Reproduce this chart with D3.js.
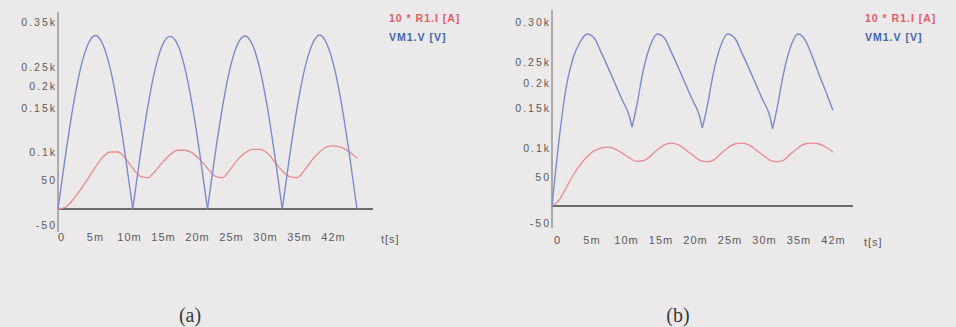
<!DOCTYPE html>
<html>
<head>
<meta charset="utf-8">
<script src="https://cdn.jsdelivr.net/npm/d3@7"></script>
<style>
  html, body { margin: 0; padding: 0; background: #ece9ea; }
  svg { display: block; }
  .tick text { fill: #5a5a5a; font-family: "Liberation Sans", Arial, sans-serif; }
</style>
</head>
<body>
<svg width="956" height="327"></svg>
<script>
// time in ms, 1 ms steps
const timeMs = d3.range(0, 41);

// panel (a): full-wave rectified, no filter
const vmA = [0, 94, 152, 245, 300, 320, 300, 245, 152, 94,
             0, 94, 152, 245, 300, 318, 300, 245, 152, 94,
             0, 94, 152, 245, 300, 319, 300, 245, 152, 94,
             0, 94, 152, 245, 300, 321, 300, 245, 152, 94,
             0];
const curA = [0, 3, 16, 33, 52, 73, 91, 100, 100, 89,
              71, 57, 54, 66, 82, 95, 102, 102, 98, 86,
              71, 57, 54, 68, 86, 98, 103, 103, 98, 82,
              66, 56, 54, 68, 86, 100, 106, 107, 105, 100,
              89];

// panel (b): with filter capacitor
const vmBTime = [0, 1, 2, 3, 4, 5, 6, 7, 8, 9, 10, 11, 11.4, 12, 13, 14,
                 15, 16, 17, 18, 19, 20, 21, 21.4, 22, 23, 24,
                 25, 26, 27, 28, 29, 30, 31, 31.4, 32, 33, 34,
                 35, 36, 37, 38, 39, 40];
const vmB = [0, 110, 190, 255, 275, 285, 280, 262, 236, 198, 166, 140, 126, 150, 231, 271,
             285, 280, 262, 236, 198, 166, 140, 125, 148, 226, 270,
             285, 280, 262, 236, 198, 166, 140, 124, 148, 226, 270,
             285, 278, 258, 221, 182, 147];
const curB = [0, 10, 31, 53, 71, 85, 95, 100, 101, 98,
              91, 83, 77, 78, 86, 97, 104, 106, 104, 97,
              88, 79, 76, 79, 90, 100, 105, 106, 104, 97,
              88, 79, 76, 79, 90, 100, 105, 106, 105, 101,
              93];

// axis ticks
const yTicksA = [-50, 0, 50, 100, 150, 200, 250, 350];
const yTicksB = [-50, 0, 50, 100, 150, 200, 250, 300];
const yLabels = { "-50": "-50", "0": "", "50": "50", "100": "0.1k", "150": "0.15k",
                  "200": "0.2k", "250": "0.25k", "300": "0.30k", "350": "0.35k" };
const xTickLabels = ["0", "5m", "10m", "15m", "20m", "25m", "30m", "35m", "42m"];
const xUnit = "t[s]";
const legendNames = ["10 * R1.I [A]", "VM1.V [V]"];
const captions = ["(a)", "(b)"];

const svg = d3.select('svg');

const panels = [
  { left: 58, right: 373, tEnd: 357, top: 12, bottom: 232,
    yTicks: yTicksA, yRange: [225, 209, 180, 152, 108, 86, 67, 22],
    vmT: timeMs, vm: vmA, cur: curA,
    xLab: [61, 333], xLabY: 239, unitX: 381,
    legX: 389, capX: 190 },
  { left: 552, right: 853, tEnd: 833, top: 10, bottom: 228,
    yTicks: yTicksB, yRange: [223, 206, 177, 148, 108, 83, 62, 22],
    vmT: vmBTime, vm: vmB, cur: curB,
    xLab: [557, 833], xLabY: 242, unitX: 864,
    legX: 865, capX: 678 }
];

// split a series at its sharp local minima so each arch is smoothed on its own
function arches(ts, vs) {
  const parts = [];
  let cur = [];
  vs.forEach((v, k) => {
    cur.push([ts[k], v]);
    const isMin = k > 0 && k < vs.length - 1 && v < vs[k - 1] && v < vs[k + 1];
    if (isMin) {
      parts.push(cur);
      cur = [[ts[k], v]];
    }
  });
  parts.push(cur);
  return parts;
}

panels.forEach((p, i) => {
  const g = svg.append('g');

  const x = d3.scaleLinear().domain([0, 40]).range([p.left, p.tEnd]);
  const y = d3.scaleLinear().domain(p.yTicks).range(p.yRange);

  // y axis line
  g.append('line')
    .attr('x1', p.left).attr('x2', p.left)
    .attr('y1', p.top).attr('y2', p.bottom)
    .attr('stroke', '#8a8a8a').attr('stroke-width', 1.3);

  // y tick labels
  const yAxis = g.append('g')
    .attr('transform', `translate(${p.left - 1},0)`)
    .call(d3.axisLeft(y).tickValues(p.yTicks).tickSize(0).tickPadding(0)
      .tickFormat(d => yLabels[d]));
  yAxis.select('.domain').remove();
  yAxis.selectAll('text')
    .attr('font-size', 10.5)
    .attr('letter-spacing', 2);

  // zero line
  g.append('line')
    .attr('x1', p.left).attr('x2', p.right)
    .attr('y1', y(0)).attr('y2', y(0))
    .attr('stroke', '#6a6a6a').attr('stroke-width', 2);

  // x tick labels
  const xl = d3.scalePoint().domain(xTickLabels).range(p.xLab);
  const xAxis = g.append('g')
    .attr('transform', `translate(0,${p.xLabY - 6})`)
    .call(d3.axisBottom(xl).tickSize(0).tickPadding(0));
  xAxis.select('.domain').remove();
  xAxis.selectAll('text')
    .attr('font-size', 11)
    .attr('letter-spacing', 1);

  g.append('text')
    .attr('x', p.unitX).attr('y', p.xLabY + 4)
    .attr('font-family', '"Liberation Sans", Arial, sans-serif')
    .attr('font-size', 11).attr('letter-spacing', 1)
    .attr('fill', '#5a5a5a')
    .text(xUnit);

  // curves
  const lineCur = d3.line()
    .x((d, k) => x(timeMs[k]))
    .y(d => y(d))
    .curve(d3.curveMonotoneX);
  const lineArch = d3.line()
    .x(d => x(d[0]))
    .y(d => y(d[1]))
    .curve(d3.curveMonotoneX);

  g.append('path')
    .attr('d', lineCur(p.cur))
    .attr('fill', 'none')
    .attr('stroke', '#e98c8f')
    .attr('stroke-width', 1.3);

  g.selectAll('.vm')
    .data(arches(p.vmT, p.vm))
    .enter()
    .append('path')
    .attr('class', 'vm')
    .attr('d', lineArch)
    .attr('fill', 'none')
    .attr('stroke', '#7b8bcb')
    .attr('stroke-width', 1.4);

  // legend
  const legColors = ['#e05c62', '#4062b4'];
  g.selectAll('.leg')
    .data(legendNames)
    .enter()
    .append('text')
    .attr('x', p.legX)
    .attr('y', (d, k) => 22 + k * 19)
    .attr('font-family', '"Liberation Sans", Arial, sans-serif')
    .attr('font-weight', 'bold')
    .attr('font-size', 10.5)
    .attr('letter-spacing', 1)
    .attr('fill', (d, k) => legColors[k])
    .text(d => d);

  // caption
  g.append('text')
    .attr('x', p.capX).attr('y', 322)
    .attr('text-anchor', 'middle')
    .attr('font-family', '"Liberation Serif", "DejaVu Serif", serif')
    .attr('font-size', 20)
    .attr('fill', '#3a3a3a')
    .text(captions[i]);
});
</script>
</body>
</html>
